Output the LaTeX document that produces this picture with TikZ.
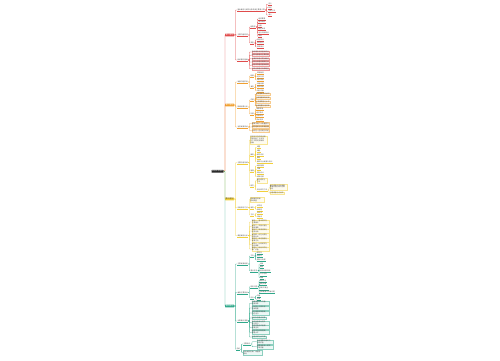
\documentclass[tikz,border=0pt]{standalone}
\usepackage{fontspec}
\newfontfamily\cjk{Noto Sans CJK SC}
\usetikzlibrary{positioning}
\definecolor{mred}{HTML}{E04B4B}
\definecolor{morange}{HTML}{F0A030}
\definecolor{myellow}{HTML}{F2CF3A}
\definecolor{mgreen}{HTML}{2FA88A}
\newcommand{\mapfs}{\cjk\fontsize{1.7}{1.95}\selectfont}
\tikzset{
	rootbox/.style={fill=black!85,text=white,inner sep=0.6pt,rounded corners=0.4pt,font=\cjk\fontsize{1.8}{2.2}\selectfont},
	mainbox/.style={fill=#1,text=white,inner sep=0.4pt,rounded corners=0.3pt,anchor=west,font=\cjk\fontsize{2}{2.4}\selectfont},
	sub/.style={inner sep=0.3pt,anchor=west,font=\mapfs,text=black!70,
		append after command={(\tikzlastnode.south west) edge[draw=#1,line width=0.2pt] (\tikzlastnode.south east)}},
	leaf/.style={draw=#1!55,fill=#1!8,line width=0.1pt,inner sep=0.3pt,anchor=west,font=\mapfs,text=black!70},
	leafw/.style 2 args={leaf=#1,text width=#2,align=left},
	link/.style={draw=#1,line width=0.3pt,rounded corners=0.5pt}
	}
\begin{document}
\begin{tikzpicture}[x=1pt,y=-1pt]
	\useasboundingbox (0,0) rectangle (500,360);
	\node[rootbox] (root) at (217.5,171.3) {知识体系框架};

	\node[mainbox=mred] (r) at (225,35) {第一部分};
	\node[mainbox=morange] (o) at (225,105) {第二部分};
	\node[mainbox=myellow,text=black!75] (y) at (225,199) {第三部分};
	\node[mainbox=mgreen] (g) at (225,306) {第四部分};
	\foreach \b/\c in {r/mred,o/morange,y/myellow,g/mgreen}
		\draw[link=\c] (root.east) -- ++(1.2,0) |- (\b.west);

	% first part
	\node[sub=mred] (r1) at (237,10) {基本概念与研究对象及其主要意义等};
	\node[sub=mred] (r2) at (237,35) {主要内容构成};
	\node[sub=mred] (r3) at (237,60) {相关理论基础};
	\node[sub=mred] (r1a) at (268,4.3) {定义};
	\node[sub=mred] (r1b) at (268,7.7) {特征};
	\node[sub=mred] (r1c) at (268,11.3) {分类方法};
	\node[sub=mred] (r1d) at (268,15) {意义};
	\node[sub=mred] (r2a) at (250,27) {结构层};
	\node[sub=mred] (r2b) at (250,43) {类型};
	\node[sub=mred] (r2a1) at (258,19) {组成要素};
	\node[sub=mred] (r2a2) at (258,22.3) {层次结构};
	\node[sub=mred] (r2a3) at (258,25.7) {功能};
	\node[sub=mred] (r2a4) at (258,29) {相互关系};
	\node[sub=mred] (r2a5) at (258,32.7) {运行机制特点};
	\node[sub=mred] (r2a6) at (258,36.3) {其他};
	\node[sub=mred] (r2b1) at (256.5,39.7) {按性质分};
	\node[sub=mred] (r2b2) at (256.5,43.3) {按功能分};
	\node[sub=mred] (r2b3) at (256.5,47) {按来源分};
	\node[leaf=mred] (r31) at (251.5,52) {系统理论及其基本观点};
	\node[leaf=mred] (r32) at (251.5,55.3) {结构功能理论主要内容};
	\node[leaf=mred] (r33) at (251.5,58.7) {发展阶段理论要点概述};
	\node[leaf=mred] (r34) at (251.5,62) {比较分析理论框架方法};
	\node[leaf=mred] (r35) at (251.5,65.3) {综合评价理论基本原则};
	\node[leaf=mred] (r36) at (251.5,68.7) {实践应用理论具体路径};
	\foreach \p/\k in {r/r1,r/r2,r/r3,r1/r1a,r1/r1b,r1/r1c,r1/r1d,r2/r2a,r2/r2b,
		r2a/r2a1,r2a/r2a2,r2a/r2a3,r2a/r2a4,r2a/r2a5,r2a/r2a6,r2b/r2b1,r2b/r2b2,r2b/r2b3,
		r3/r31,r3/r32,r3/r33,r3/r34,r3/r35,r3/r36}
		\draw[link=mred] (\p.east) -- ++(1.2,0) |- (\k.west);

	% second part
	\node[sub=morange] (o1) at (237,82) {发展历程阶段};
	\node[sub=morange] (o2) at (237,107) {影响因素分析};
	\node[sub=morange] (o3) at (237,127) {当前发展现状};
	\node[sub=morange] (o1a) at (250,76) {起源};
	\node[sub=morange] (o1b) at (250,87.3) {演变};
	\node[sub=morange] (o1a1) at (256.5,73.3) {早期萌芽};
	\node[sub=morange] (o1a2) at (256.5,76.7) {初步形成};
	\node[sub=morange] (o1a3) at (256.5,80) {理论提出};
	\node[sub=morange] (o1b1) at (256.5,84) {快速发展};
	\node[sub=morange] (o1b2) at (256.5,87.3) {逐步成熟};
	\node[sub=morange] (o1b3) at (256.5,90.7) {深化完善};
	\node[sub=morange] (o2a) at (250,100) {内部};
	\node[sub=morange] (o2b) at (250,114) {外部};
	\node[leaf=morange] (o2a1) at (255.5,94.3) {自身基础条件状况};
	\node[leaf=morange] (o2a2) at (255.5,98.3) {内部管理体制机制};
	\node[leaf=morange] (o2a3) at (255.5,102) {人员素质能力水平};
	\node[leaf=morange] (o2a4) at (255.5,105.7) {资源配置利用效率};
	\node[sub=morange] (o2b1) at (256,109) {政策环境};
	\node[sub=morange] (o2b2) at (256,112.7) {经济条件};
	\node[sub=morange] (o2b3) at (256,116.3) {社会文化};
	\node[sub=morange] (o2b4) at (256,120) {技术进步};
	\node[leaf=morange] (o31) at (251.5,123.5) {规模不断扩大质量提升};
	\node[leaf=morange] (o32) at (251.5,127) {结构逐步优化布局合理};
	\node[leaf=morange] (o33) at (251.5,130.5) {仍存在一些问题与不足};
	\foreach \p/\k in {o/o1,o/o2,o/o3,o1/o1a,o1/o1b,o1a/o1a1,o1a/o1a2,o1a/o1a3,
		o1b/o1b1,o1b/o1b2,o1b/o1b3,o2/o2a,o2/o2b,o2a/o2a1,o2a/o2a2,o2a/o2a3,o2a/o2a4,
		o2b/o2b1,o2b/o2b2,o2b/o2b3,o2b/o2b4,o3/o31,o3/o32,o3/o33}
		\draw[link=morange] (\p.east) -- ++(1.2,0) |- (\k.west);

	% third part
	\node[sub=myellow] (y1) at (237,162.7) {主要应用领域};
	\node[sub=myellow] (y2) at (237,207.7) {应用原则方法};
	\node[sub=myellow] (y3) at (237,235.5) {典型案例分析};
	\node[leafw={myellow}{16pt}] (y1a) at (250,140) {在实际工作中的应用\\范围日益广泛涉及\\多个不同的领域和\\层面};
	\node[sub=myellow] (y1b) at (250,155) {教育};
	\node[sub=myellow] (y1c) at (250,171) {管理};
	\node[sub=myellow] (y1d) at (250,186) {研究};
	\node[sub=myellow] (y1b1) at (256.5,147.3) {课堂};
	\node[sub=myellow] (y1b2) at (256.5,151) {课程};
	\node[sub=myellow] (y1b3) at (256.5,154.7) {教学评价};
	\node[sub=myellow] (y1b4) at (256.5,158.3) {教材};
	\node[sub=myellow] (y1b5) at (256.5,162) {教师专业发展与培训};
	\node[sub=myellow] (y1c1) at (256.5,165.7) {组织管理};
	\node[sub=myellow] (y1c2) at (256.5,169.3) {决策};
	\node[sub=myellow] (y1c3) at (256.5,173) {规划设计};
	\node[sub=myellow] (y1c4) at (256.5,176.7) {绩效考核};
	\node[leafw={myellow}{10pt}] (y1d1) at (256.5,180.5) {理论研究与\\方法};
	\node[sub=myellow] (y1d2) at (256.5,190) {实证研究方法};
	\node[leafw={myellow}{17pt}] (y1d2a) at (269.5,187.3) {通过调查与实验获取\\数据并进行统计分析\\验证};
	\node[leaf=myellow] (y1d2b) at (269.5,193) {问卷调查与访谈法};
	\node[leafw={myellow}{13pt}] (y2a) at (250,199.5) {遵循客观规律\\因地制宜};
	\node[sub=myellow] (y2b) at (250,207.7) {原则};
	\node[sub=myellow] (y2c) at (250,215) {方法};
	\node[sub=myellow] (y2b1) at (256.5,206) {科学性};
	\node[sub=myellow] (y2b2) at (256.5,209.5) {系统性};
	\node[sub=myellow] (y2c1) at (256.5,213.3) {比较法};
	\node[sub=myellow] (y2c2) at (256.5,216.8) {归纳法};
	\node[leafw={myellow}{17pt}] (y31) at (251.5,222) {案例一：基本情况与\\主要做法};
	\node[leafw={myellow}{17pt}] (y32) at (251.5,226.5) {案例二：实施过程与\\具体措施};
	\node[leafw={myellow}{17pt}] (y33) at (251.5,231) {案例三：取得成效与\\经验总结};
	\node[leafw={myellow}{17pt}] (y34) at (251.5,235.5) {案例四：存在问题与\\原因分析};
	\node[leafw={myellow}{17pt}] (y35) at (251.5,240) {案例五：改进措施与\\发展方向};
	\node[leafw={myellow}{17pt}] (y36) at (251.5,244.5) {案例六：比较研究与\\启示借鉴};
	\node[leafw={myellow}{17pt}] (y37) at (251.5,249) {案例七：综合评价与\\推广价值};
	\foreach \p/\k in {y/y1,y/y2,y/y3,y1/y1a,y1/y1b,y1/y1c,y1/y1d,y1b/y1b1,y1b/y1b2,
		y1b/y1b3,y1b/y1b4,y1b/y1b5,y1c/y1c1,y1c/y1c2,y1c/y1c3,y1c/y1c4,y1d/y1d1,y1d/y1d2,
		y1d2/y1d2a,y1d2/y1d2b,y2/y2a,y2/y2b,y2/y2c,y2b/y2b1,y2b/y2b2,y2c/y2c1,y2c/y2c2,
		y3/y31,y3/y32,y3/y33,y3/y34,y3/y35,y3/y36,y3/y37}
		\draw[link=myellow] (\p.east) -- ++(1.2,0) |- (\k.west);

	% fourth part
	\node[sub=mgreen] (g1) at (237,264) {主要发展趋势};
	\node[sub=mgreen] (g2) at (237,292.5) {面临主要挑战};
	\node[sub=mgreen] (g3) at (237,321) {对策建议措施};
	\node[sub=mgreen] (g4) at (236,349.3) {总结};
	\node[sub=mgreen] (g1a) at (250,256) {方向};
	\node[sub=mgreen] (g1b) at (250,270.7) {重点任务};
	\node[sub=mgreen] (g1a1) at (256.5,252.7) {数字化};
	\node[sub=mgreen] (g1a2) at (256.5,256) {智能化};
	\node[sub=mgreen] (g1a3) at (256.5,260) {国际化发展};
	\node[sub=mgreen] (g1b1) at (259.5,264) {创新};
	\node[sub=mgreen] (g1b2) at (259.5,267.3) {融合};
	\node[sub=mgreen] (g1b3) at (259.5,270.7) {协同发展机制};
	\node[sub=mgreen] (g1b4) at (259.5,274.3) {人才培养};
	\node[sub=mgreen] (g1b5) at (259.5,277.7) {保障};
	\node[sub=mgreen] (g2a) at (250,286.7) {现实问题};
	\node[sub=mgreen] (g2b) at (250,297.5) {应对};
	\node[sub=mgreen] (g2a1) at (259,280.7) {资源不足};
	\node[sub=mgreen] (g2a2) at (259,284.3) {结构失衡};
	\node[sub=mgreen] (g2a3) at (259,288.3) {机制不健全};
	\node[sub=mgreen] (g2a4) at (259,292.3) {区域发展不平衡问题};
	\node[sub=mgreen] (g2b1) at (256.5,295.7) {完善};
	\node[sub=mgreen] (g2b2) at (256.5,299.3) {改革};
	\node[leafw={mgreen}{17pt}] (g31) at (251.5,303.3) {加强顶层设计完善\\制度体系};
	\node[leafw={mgreen}{17pt}] (g32) at (251.5,308) {加大投入力度优化\\资源配置};
	\node[leafw={mgreen}{17pt}] (g33) at (251.5,313) {深化体制改革激发\\内在活力};
	\node[leaf=mgreen] (g34) at (251.5,318) {强化队伍建设培养};
	\node[leafw={mgreen}{17pt}] (g35) at (251.5,322.7) {推进创新驱动提升\\核心能力};
	\node[leafw={mgreen}{17pt}] (g36) at (251.5,327.3) {促进开放合作拓展\\发展空间};
	\node[leafw={mgreen}{17pt}] (g37) at (251.5,332.3) {健全评价机制提高\\管理水平};
	\node[leaf=mgreen] (g38) at (251.5,337) {营造良好社会环境};
	\node[sub=mgreen] (g4a) at (243,344) {主要结论};
	\node[leafw={mgreen}{16pt}] (g4a1) at (256.5,341.7) {具有重要的理论与\\实践价值};
	\node[leafw={mgreen}{16pt}] (g4a2) at (256.5,346.7) {需要持续深入研究\\不断完善};
	\node[leafw={mgreen}{18pt}] (g4b) at (243,352.5) {未来发展前景广阔值得\\期待};
	\foreach \p/\k in {g/g1,g/g2,g/g3,g/g4,g1/g1a,g1/g1b,g1a/g1a1,g1a/g1a2,g1a/g1a3,
		g1b/g1b1,g1b/g1b2,g1b/g1b3,g1b/g1b4,g1b/g1b5,g2/g2a,g2/g2b,g2a/g2a1,g2a/g2a2,
		g2a/g2a3,g2a/g2a4,g2b/g2b1,g2b/g2b2,g3/g31,g3/g32,g3/g33,g3/g34,g3/g35,g3/g36,
		g3/g37,g3/g38,g4/g4a,g4/g4b,g4a/g4a1,g4a/g4a2}
		\draw[link=mgreen] (\p.east) -- ++(1.2,0) |- (\k.west);
\end{tikzpicture}
\end{document}
